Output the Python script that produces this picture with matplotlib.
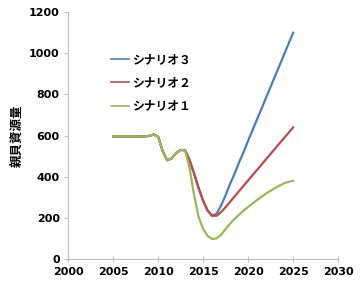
import numpy as np
import matplotlib
matplotlib.use("Agg")
import matplotlib.pyplot as plt

plt.rcParams['font.family'] = ['Noto Sans CJK JP', 'DejaVu Sans']

# half-year steps, 2005 - 2025
years = np.arange(2005, 2025.01, 0.5)

common = [595, 595, 595, 595, 595, 595, 595, 596, 598, 605,   # 2005-2009.5
          595, 525, 480, 488, 515, 530, 528]                  # 2010-2013
drop_23 = [480, 415, 345, 283, 235, 210]                      # 2013.5-2016
drop_1 = [440, 310, 205, 145, 112, 97]

scen3 = common + drop_23 + [220, 260, 310, 365, 415, 470, 520, 575, 627, 680,
                            732, 785, 837, 890, 942, 995, 1047, 1100]
scen2 = common + drop_23 + [210, 228, 252, 278, 304, 330, 356, 382, 408, 433,
                            459, 485, 511, 537, 563, 588, 614, 640]
scen1 = common + drop_1 + [100, 118, 145, 172, 195, 215, 235, 253, 270, 287,
                           303, 318, 332, 345, 357, 368, 375, 380]

labels = ['シナリオ３', 'シナリオ２', 'シナリオ１']
colors = ['#4a7ebb', '#be4b48', '#98b954']

fig = plt.figure(figsize=(3.64, 2.89), dpi=100)
ax = fig.add_axes([0.187, 0.104, 0.742, 0.854])

for vals, lab, c in zip([scen3, scen2, scen1], labels, colors):
    ax.plot(years, vals, color=c, lw=1.6, label=lab)

ax.set_xlim(2000, 2030)
ax.set_ylim(0, 1200)
ax.set_xticks(range(2000, 2031, 5))
ax.set_yticks(range(0, 1201, 200))

for s in ['top', 'right']:
    ax.spines[s].set_visible(False)
for s in ['left', 'bottom']:
    ax.spines[s].set_color('#bfbfbf')
    ax.spines[s].set_linewidth(0.8)
ax.tick_params(axis='x', direction='inout', length=5, color='#bfbfbf', pad=3)
ax.tick_params(axis='y', direction='out', length=3, color='#bfbfbf', pad=3)
for t in ax.get_xticklabels() + ax.get_yticklabels():
    t.set_family('DejaVu Sans')
    t.set_fontweight('bold')
    t.set_fontsize(8)

ax.set_ylabel('親貝資源量', fontsize=9, fontweight='bold', labelpad=4)

leg = ax.legend(loc='upper left', bbox_to_anchor=(0.29, 0.835),
                bbox_transform=fig.transFigure, frameon=False,
                handlelength=1.5, handletextpad=0.2, labelspacing=0.85,
                borderpad=0, prop={'weight': 'bold', 'size': 8.5})
for line in leg.get_lines():
    line.set_linewidth(1.2)

fig.savefig('out.png', dpi=100)
